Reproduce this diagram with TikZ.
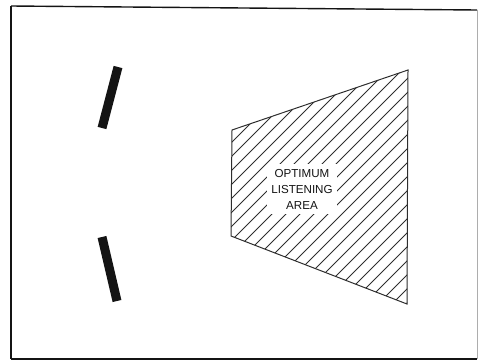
\documentclass[tikz,border=0pt]{standalone}
\usepackage{fontspec}
\setmainfont{Liberation Sans}
\usepackage{tikz}
\usetikzlibrary{calc}
\definecolor{ink}{HTML}{141414}
\definecolor{quiet}{HTML}{2E2E2E}
\tikzset{frame/.style={draw=ink,line width=1.4pt},
  speaker/.style={draw=ink,line width=9pt,line cap=butt},
  zone/.style={draw=quiet,line width=1pt},
  hatch/.style={draw=quiet,line width=0.8pt},
  lab/.style={font=\fontsize{11.6}{16}\selectfont,text=ink,fill=white,
    align=center,inner sep=4.5pt}}

\begin{document}
\begin{tikzpicture}[x=1pt,y=-1pt]
  \useasboundingbox (0,0) rectangle (478,362);
  \draw[frame] (11,6) -- (477,10);
  \draw[frame] (11,6) -- (11,359);
  \draw[frame,line width=2.6pt] (11,359) -- (477,359);
  \draw[frame,draw=ink!35,line width=0.8pt] (477,10) -- (477,359);
  % speakers
  \coordinate (sUpA) at (118,67);
  \coordinate (sUpB) at (102,128);
  \coordinate (sLoA) at (102,237);
  \coordinate (sLoB) at (117,301);
  \draw[speaker] (sUpA) -- (sUpB);
  \draw[speaker] (sLoA) -- (sLoB);
  % listening area
  \coordinate (aTL) at (232,130);
  \coordinate (aTR) at (408,70);
  \coordinate (aBR) at (407,304);
  \coordinate (aBL) at (231,236);
  \begin{scope}
    \clip (aTL) -- (aTR) -- (aBR) -- (aBL) -- cycle;
    \foreach \c in {-110,-96,...,420}
      \draw[hatch] (\c,330) -- ++(330,-330);
  \end{scope}
  \draw[zone] (aTL) -- (aTR) -- (aBR) -- (aBL) -- cycle;
  \node[lab] (area) at (302,189) {OPTIMUM\\LISTENING\\AREA};
\end{tikzpicture}
\end{document}
